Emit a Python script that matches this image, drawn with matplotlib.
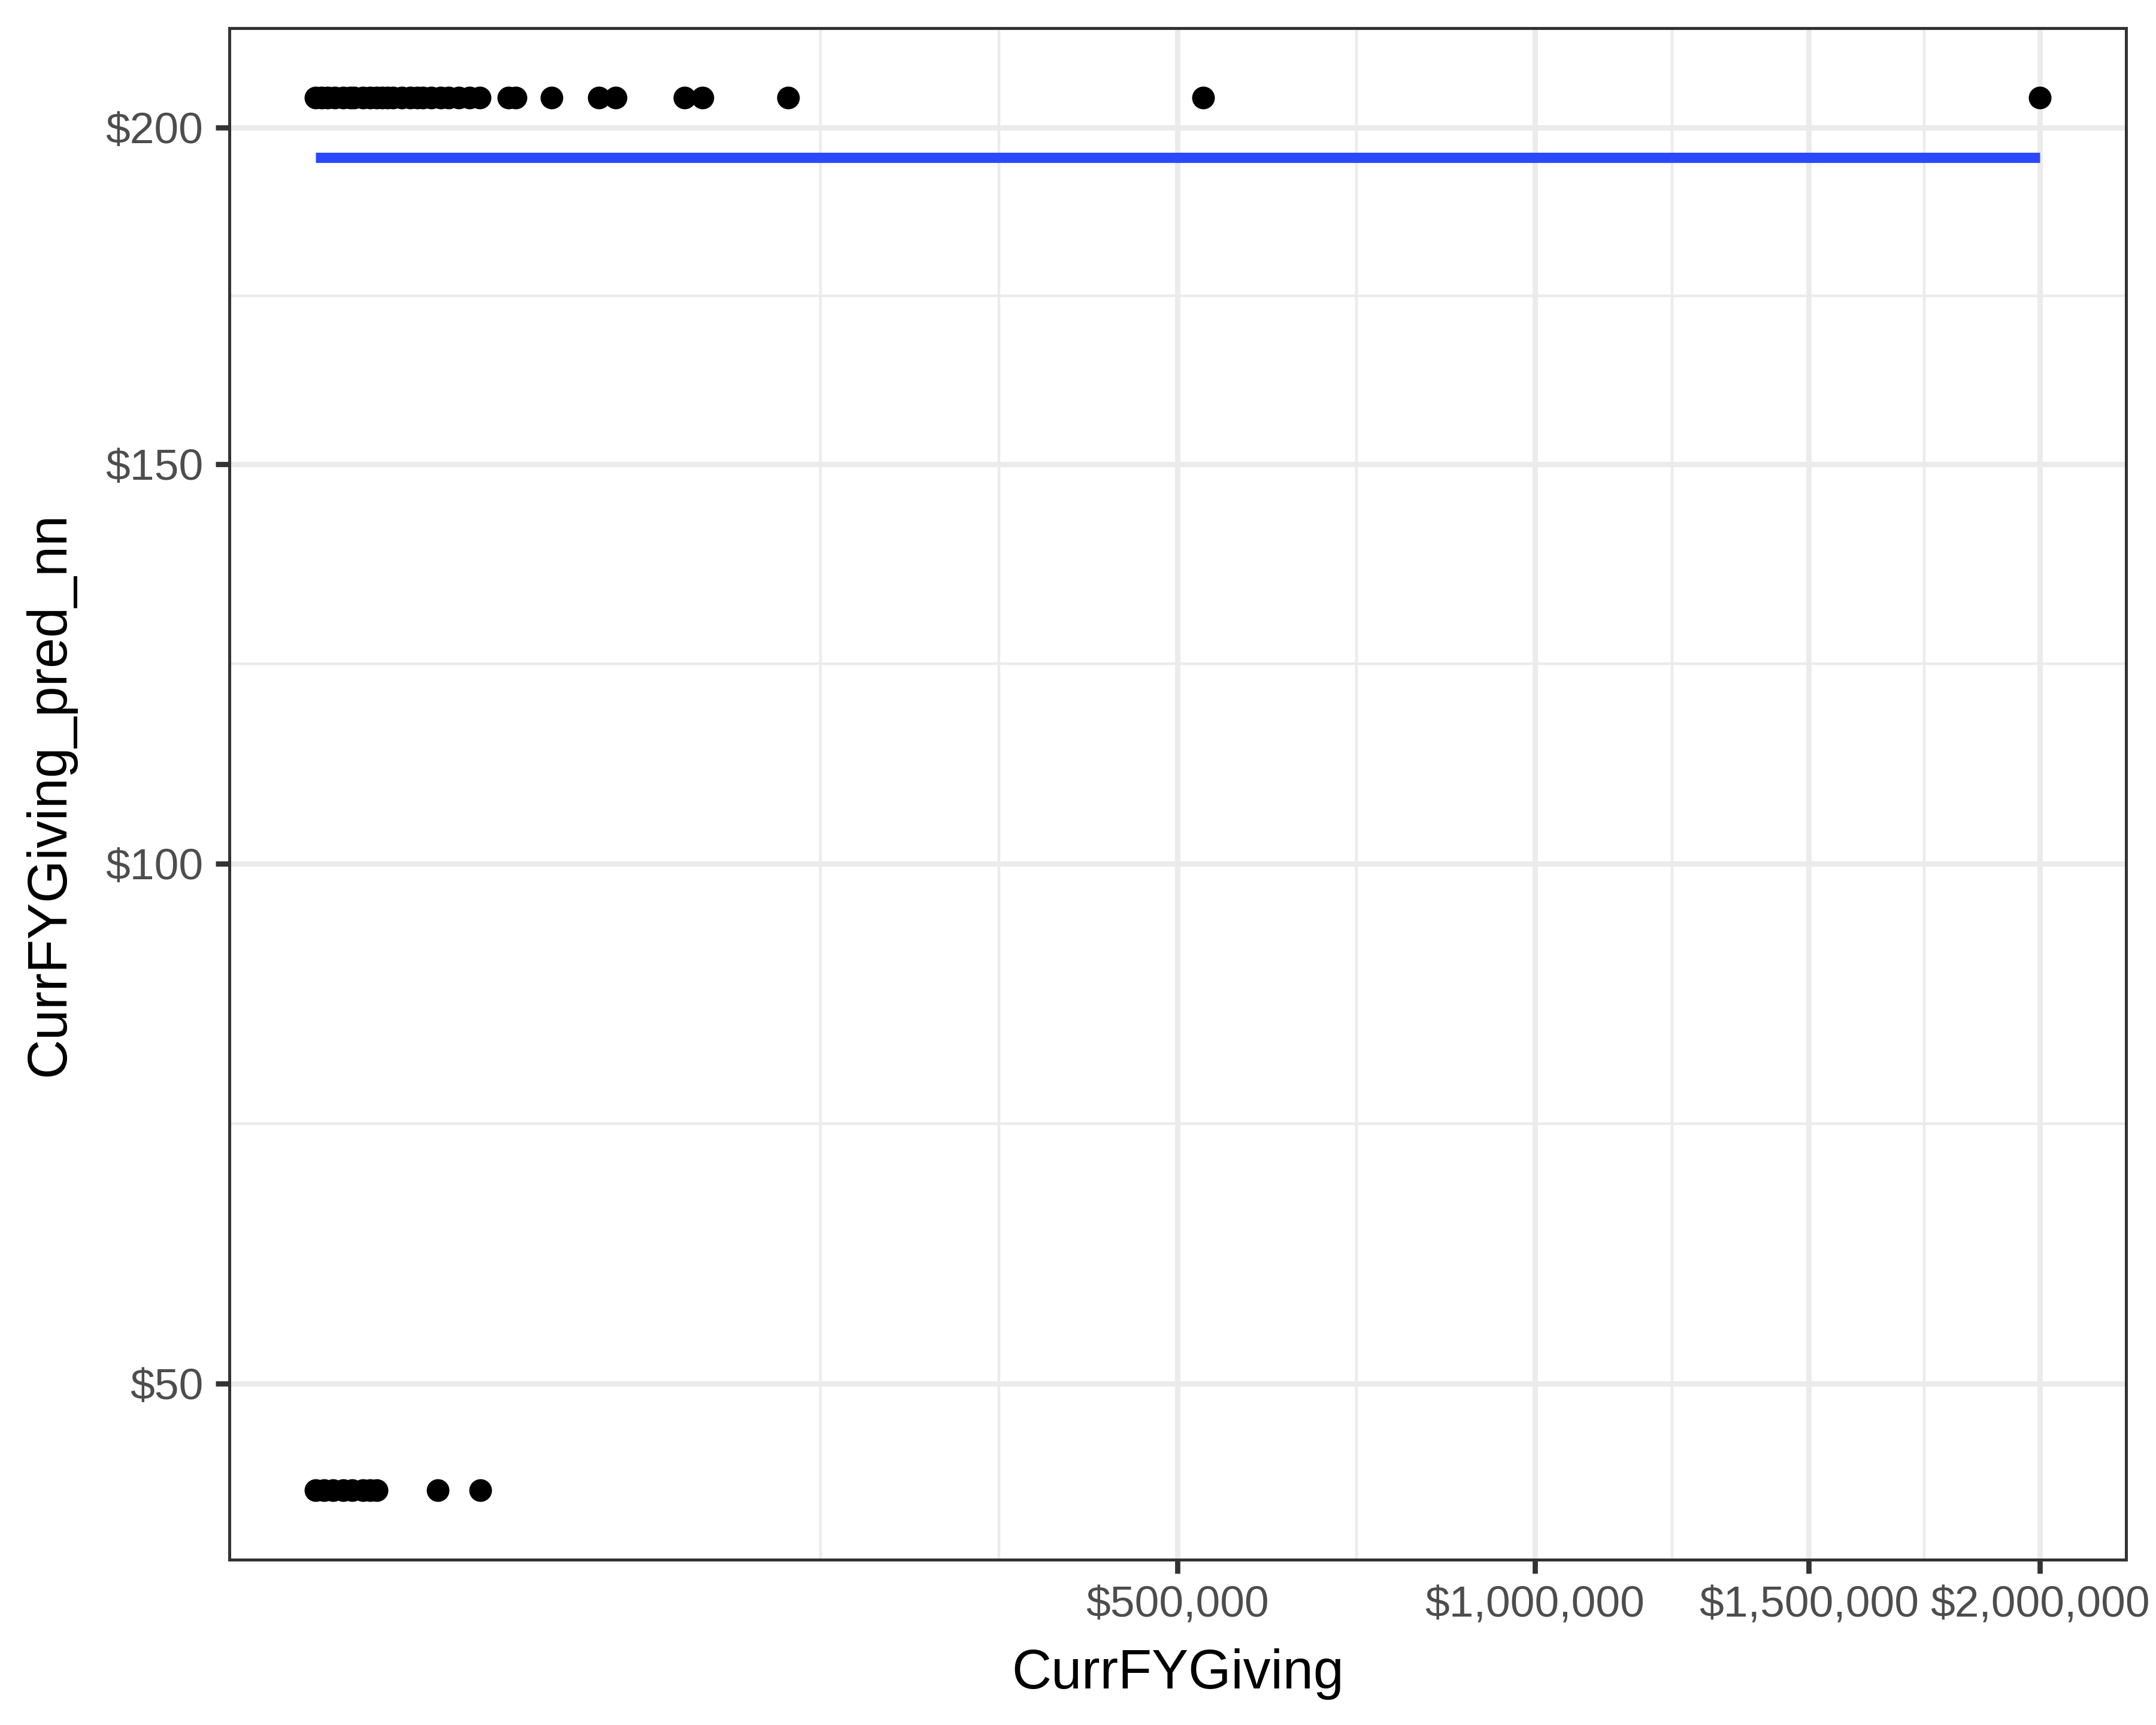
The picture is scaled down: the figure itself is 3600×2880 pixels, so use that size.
import numpy as np
import matplotlib
matplotlib.use("Agg")
import matplotlib.pyplot as plt
from matplotlib.ticker import FixedLocator, NullFormatter

plt.rcParams['font.family'] = ['Liberation Sans', 'DejaVu Sans']

# 数据：预测值两档（约 $204.8 与 $41.9）
x_high = [0, 25, 100, 250, 500, 800, 1000, 1500, 2000, 2500, 3000, 3500, 4000,
          5000, 6000, 7000, 7700, 9000, 10500, 11850, 13740, 16000, 18180,
          25090, 26990, 37520, 54020, 60600, 91550, 100660, 150080, 530000, 2000000]
y_high = [204.8] * len(x_high)
x_low = [0, 50, 200, 500, 900, 1500, 2000, 2500, 10000, 18200]
y_low = [41.9] * len(x_low)

# 平滑线（lm 拟合，近似水平）
smooth_x = [0, 2000000]
smooth_y = [195.3, 195.3]

x_breaks = [500000, 1000000, 1500000, 2000000]
x_labels = ["$500,000", "$1,000,000", "$1,500,000", "$2,000,000"]
y_breaks = [50, 100, 150, 200]
y_labels = ["$50", "$100", "$150", "$200"]


def fwd(v):
    v = np.asarray(v, dtype=float)
    return np.sign(v) * np.sqrt(np.abs(v))


def inv(v):
    v = np.asarray(v, dtype=float)
    return np.sign(v) * v ** 2


def minor_breaks(b, lo, hi):
    # 与 ggplot2 regular_minor_breaks 类似，在 sqrt 空间取中点
    s = list(fwd(b))
    if lo < s[0]:
        s = [s[0] - (s[1] - s[0])] + s
    if hi > s[-1]:
        s = s + [s[-1] + (s[-1] - s[-2])]
    out = []
    for a, c in zip(s[:-1], s[1:]):
        out += [a, (a + c) / 2, c]
    out = [v for v in out if lo <= v <= hi]
    return inv(sorted(set(out)))


fig = plt.figure(figsize=(12, 9.6), dpi=300)
ax = fig.add_axes([0.1064, 0.0958, 0.8797, 0.8879])
ax.set_xscale('function', functions=(fwd, inv))
ax.set_yscale('function', functions=(fwd, inv))

all_x = fwd(x_high + x_low + smooth_x)
all_y = fwd(y_high + y_low + smooth_y)
xr = all_x.max() - all_x.min()
yr = all_y.max() - all_y.min()
xlo, xhi = all_x.min() - 0.05 * xr, all_x.max() + 0.05 * xr
ylo, yhi = all_y.min() - 0.05 * yr, all_y.max() + 0.05 * yr
ax.set_xlim(inv(xlo), inv(xhi))
ax.set_ylim(inv(ylo), inv(yhi))

ax.plot(x_high, y_high, 'o', color='black', markersize=9.1, markeredgewidth=0, zorder=3)
ax.plot(x_low, y_low, 'o', color='black', markersize=9.1, markeredgewidth=0, zorder=3)
ax.plot(smooth_x, smooth_y, color='#2B48FF', linewidth=4.1, solid_capstyle='butt', zorder=4)

ax.xaxis.set_major_locator(FixedLocator(x_breaks))
ax.set_xticklabels(x_labels)
ax.yaxis.set_major_locator(FixedLocator(y_breaks))
ax.set_yticklabels(y_labels)
ax.xaxis.set_minor_locator(FixedLocator(minor_breaks(x_breaks, xlo, xhi)))
ax.yaxis.set_minor_locator(FixedLocator(minor_breaks(y_breaks, ylo, yhi)))
ax.xaxis.set_minor_formatter(NullFormatter())
ax.yaxis.set_minor_formatter(NullFormatter())

ax.set_axisbelow(True)
ax.grid(which='minor', color='#EBEBEB', linewidth=1.07)
ax.grid(which='major', color='#EBEBEB', linewidth=2.13)
ax.tick_params(which='minor', length=0)
ax.tick_params(which='major', length=5.5, width=2.1, color='#333333',
               labelsize=17.6, labelcolor='#4D4D4D', pad=5)

for sp in ax.spines.values():
    sp.set_color('#333333')
    sp.set_linewidth(1.2)

ax.set_xlabel("CurrFYGiving", fontsize=22, labelpad=9)
ax.set_ylabel("CurrFYGiving_pred_nn", fontsize=22, labelpad=12)

fig.savefig("out.png", dpi=300)
